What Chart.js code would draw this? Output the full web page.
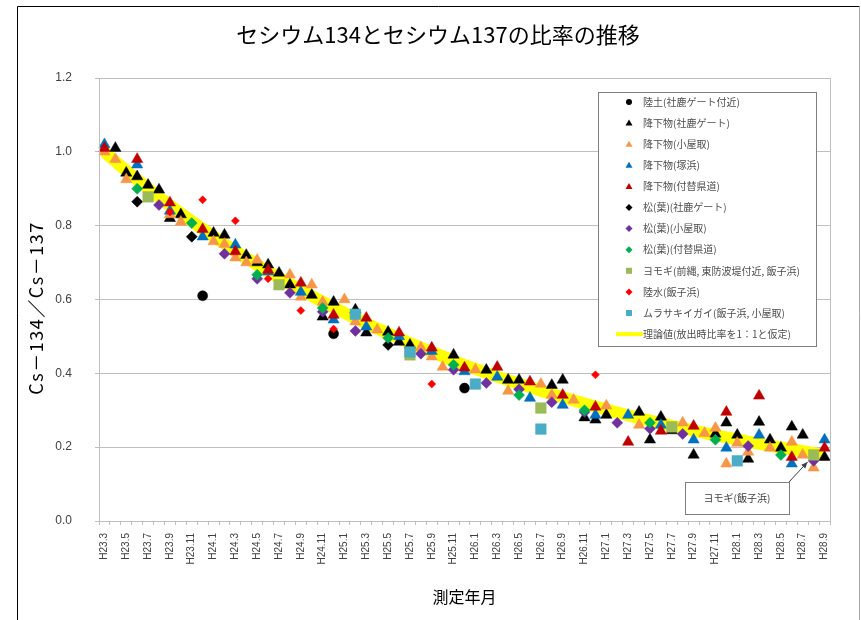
<!DOCTYPE html>
<html>
<head>
<meta charset="utf-8">
<script src="https://cdn.jsdelivr.net/npm/chart.js@4/dist/chart.umd.min.js"></script>
<style>
  body { margin: 0; background: #fff; }
  canvas { display: block; }
</style>
</head>
<body>
<canvas id="chart" width="861" height="620"></canvas>
<script>
// 測定年月 (category axis, every month H23.3 - H28.9)
const months = [
  'H23.3','H23.4','H23.5','H23.6','H23.7','H23.8','H23.9','H23.10','H23.11','H23.12',
  'H24.1','H24.2','H24.3','H24.4','H24.5','H24.6','H24.7','H24.8','H24.9','H24.10','H24.11','H24.12',
  'H25.1','H25.2','H25.3','H25.4','H25.5','H25.6','H25.7','H25.8','H25.9','H25.10','H25.11','H25.12',
  'H26.1','H26.2','H26.3','H26.4','H26.5','H26.6','H26.7','H26.8','H26.9','H26.10','H26.11','H26.12',
  'H27.1','H27.2','H27.3','H27.4','H27.5','H27.6','H27.7','H27.8','H27.9','H27.10','H27.11','H27.12',
  'H28.1','H28.2','H28.3','H28.4','H28.5','H28.6','H28.7','H28.8','H28.9'
];

// 陸土(社鹿ゲート付近)
const rikudoM = ['H23.12','H24.12','H25.12'];
const rikudo = [0.61, 0.507, 0.36];

// 降下物(社鹿ゲート)
const fallGateM = ['H23.4','H23.5','H23.6','H23.7','H23.8','H23.9','H23.10','H24.1','H24.2','H24.4','H24.5','H24.6','H24.7','H24.8','H24.10','H24.11','H24.12','H25.2','H25.3','H25.5','H25.6','H25.7','H25.11','H26.2','H26.4','H26.5','H26.8','H26.9','H26.11','H26.12','H27.1','H27.4','H27.5','H27.6','H27.7','H27.9','H27.11','H27.12','H28.1','H28.2','H28.3','H28.4','H28.5','H28.6','H28.7','H28.9'];
const fallGate = [1.01, 0.943, 0.933, 0.91, 0.897, 0.82, 0.83, 0.78, 0.775, 0.72, 0.70, 0.694, 0.672, 0.64, 0.612, 0.553, 0.593, 0.572, 0.51, 0.512, 0.485, 0.477, 0.45, 0.409, 0.382, 0.382, 0.368, 0.382, 0.28, 0.274, 0.287, 0.295, 0.22, 0.282, 0.245, 0.179, 0.236, 0.266, 0.233, 0.168, 0.268, 0.22, 0.198, 0.255, 0.233, 0.173];

// 降下物(小屋取)
const fallKoyaM = ['H23.3','H23.4','H23.5','H23.9','H23.10','H24.1','H24.2','H24.3','H24.4','H24.5','H24.8','H24.9','H24.10','H24.11','H25.1','H25.2','H25.4','H25.8','H25.9','H25.10','H26.1','H26.4','H26.7','H26.8','H26.10','H27.1','H27.4','H27.8','H27.10','H27.11','H27.12','H28.1','H28.2','H28.4','H28.6','H28.7','H28.8'];
const fallKoya = [1.00, 0.98, 0.925, 0.83, 0.81, 0.757, 0.75, 0.713, 0.70, 0.707, 0.667, 0.607, 0.64, 0.593, 0.60, 0.54, 0.518, 0.47, 0.445, 0.417, 0.41, 0.352, 0.371, 0.341, 0.328, 0.312, 0.26, 0.266, 0.238, 0.252, 0.155, 0.211, 0.187, 0.198, 0.214, 0.179, 0.144];

// 降下物(塚浜)
const fallTsukaM = ['H23.3','H23.6','H23.9','H23.12','H24.3','H24.6','H24.9','H24.12','H25.3','H25.6','H25.9','H25.12','H26.3','H26.6','H26.9','H26.12','H27.3','H27.6','H27.9','H27.12','H28.3','H28.6','H28.9'];
const fallTsuka = [1.02, 0.965, 0.84, 0.77, 0.748, 0.675, 0.62, 0.545, 0.526, 0.50, 0.46, 0.405, 0.39, 0.333, 0.314, 0.287, 0.287, 0.26, 0.22, 0.198, 0.233, 0.155, 0.22];

// 降下物(付替県道)
const fallRoadM = ['H23.3','H23.6','H23.9','H23.12','H24.3','H24.6','H24.9','H24.12','H25.3','H25.6','H25.9','H25.12','H26.3','H26.6','H26.9','H26.12','H27.3','H27.6','H27.9','H27.12','H28.3','H28.6','H28.9'];
const fallRoad = [1.01, 0.98, 0.862, 0.79, 0.73, 0.68, 0.645, 0.558, 0.55, 0.51, 0.469, 0.415, 0.417, 0.377, 0.341, 0.309, 0.214, 0.244, 0.257, 0.295, 0.339, 0.173, 0.198];

// 松(葉)
const pineGateM = ['H23.6','H23.11','H25.5'];
const pineGate = [0.865, 0.77, 0.477];
const pineKoyaM = ['H23.8','H24.2','H24.5','H24.8','H24.11','H25.2','H25.8','H25.11','H26.2','H26.5','H26.8','H26.11','H27.2','H27.5','H27.8','H28.2','H28.8'];
const pineKoya = [0.856, 0.724, 0.656, 0.618, 0.567, 0.515, 0.453, 0.41, 0.374, 0.357, 0.322, 0.295, 0.266, 0.25, 0.236, 0.203, 0.163];
const pineRoadM = ['H23.6','H23.11','H24.5','H24.11','H25.5','H25.11','H26.5','H26.11','H27.5','H27.11','H28.5'];
const pineRoad = [0.90, 0.807, 0.667, 0.577, 0.496, 0.423, 0.341, 0.30, 0.266, 0.22, 0.179];

// ヨモギ, 陸水, ムラサキイガイ
const yomogiM = ['H23.7','H24.7','H25.7','H26.7','H27.7','H28.8'];
const yomogi = [0.878, 0.64, 0.45, 0.306, 0.255, 0.179];
const waterM = ['H23.9','H23.12','H24.3','H24.6','H24.9','H24.12','H25.9','H26.12'];
const water = [0.837, 0.87, 0.813, 0.656, 0.57, 0.52, 0.371, 0.396];
const musselM = ['H25.2','H25.7','H26.1','H26.7','H28.1'];
const mussel = [0.56, 0.458, 0.371, 0.249, 0.163];

// 理論値 (every 2 months from H23.3)
const theory = [1.000, 0.949, 0.901, 0.855, 0.812, 0.771, 0.731, 0.694, 0.659, 0.626, 0.594, 0.564,
  0.535, 0.508, 0.482, 0.458, 0.434, 0.412, 0.391, 0.372, 0.353, 0.335, 0.318, 0.302,
  0.286, 0.272, 0.258, 0.245, 0.232, 0.221, 0.209, 0.199, 0.189, 0.179];

const yTicks = [0, 0.2, 0.4, 0.6, 0.8, 1.0, 1.2];

const JP = '"Noto Sans CJK JP", sans-serif';

function pts(m, v) {
  return m.map((x, i) => ({ x: x, y: v[i] }));
}

function series(label, m, v, style, color, r, order) {
  return {
    label: label,
    data: pts(m, v),
    showLine: false,
    pointStyle: style,
    pointRadius: r,
    pointBorderWidth: 0.5,
    backgroundColor: color,
    borderColor: color,
    order: order
  };
}

const datasets = [
  series('陸土(社鹿ゲート付近)', rikudoM, rikudo, 'circle', '#000000', 5, 11),
  series('降下物(社鹿ゲート)', fallGateM, fallGate, 'triangle', '#000000', 6.5, 10),
  series('降下物(小屋取)', fallKoyaM, fallKoya, 'triangle', '#F79646', 6.5, 9),
  series('降下物(塚浜)', fallTsukaM, fallTsuka, 'triangle', '#0070C0', 6.5, 8),
  series('降下物(付替県道)', fallRoadM, fallRoad, 'triangle', '#C00000', 6.5, 7),
  series('松(葉)(社鹿ゲート)', pineGateM, pineGate, 'rectRot', '#000000', 5.5, 6),
  series('松(葉)(小屋取)', pineKoyaM, pineKoya, 'rectRot', '#7030A0', 5.5, 5),
  series('松(葉)(付替県道)', pineRoadM, pineRoad, 'rectRot', '#00B050', 5.5, 4),
  series('ヨモギ(前縄, 東防波堤付近, 飯子浜)', yomogiM, yomogi, 'rect', '#9BBB59', 7.5, 3),
  series('陸水(飯子浜)', waterM, water, 'rectRot', '#FF0000', 4, 2),
  series('ムラサキイガイ(飯子浜, 小屋取)', musselM, mussel, 'rect', '#4BACC6', 7.5, 1),
  {
    label: '理論値(放出時比率を1：1と仮定)',
    data: theory.map((v, i) => ({ x: months[i * 2], y: v })),
    borderColor: '#FFFF00',
    backgroundColor: '#FFFF00',
    borderWidth: 12,
    pointRadius: 0,
    cubicInterpolationMode: 'monotone',
    order: 20
  }
];

function mark(ctx, style, x, y, color) {
  ctx.fillStyle = color;
  ctx.beginPath();
  if (style === 'circle') {
    ctx.arc(x, y, 3, 0, Math.PI * 2);
  } else if (style === 'triangle') {
    ctx.moveTo(x, y - 3.5);
    ctx.lineTo(x + 3.5, y + 2.5);
    ctx.lineTo(x - 3.5, y + 2.5);
  } else if (style === 'rectRot') {
    ctx.moveTo(x, y - 3.5);
    ctx.lineTo(x + 3.5, y);
    ctx.lineTo(x, y + 3.5);
    ctx.lineTo(x - 3.5, y);
  } else {
    ctx.rect(x - 3, y - 3, 6, 6);
  }
  ctx.closePath();
  ctx.fill();
}

const decor = {
  id: 'decor',
  beforeDraw(chart) {
    const ctx = chart.ctx;
    ctx.save();
    ctx.fillStyle = '#ffffff';
    ctx.fillRect(0, 0, chart.width, chart.height);
    ctx.restore();
  },
  afterDraw(chart) {
    const ctx = chart.ctx;
    const area = chart.chartArea;
    ctx.save();

    // outer frame
    ctx.strokeStyle = '#000000';
    ctx.lineWidth = 1;
    ctx.beginPath();
    ctx.moveTo(17.5, 630);
    ctx.lineTo(17.5, 6.5);
    ctx.lineTo(859.5, 6.5);
    ctx.stroke();
    ctx.strokeStyle = '#a6a6a6';
    ctx.beginPath();
    ctx.moveTo(859.5, 6.5);
    ctx.lineTo(859.5, 630);
    ctx.stroke();

    // plot area border
    ctx.strokeStyle = '#bfbfbf';
    ctx.strokeRect(area.left + 0.5, area.top + 0.5, area.right - area.left, area.bottom - area.top);

    // titles
    ctx.fillStyle = '#000000';
    ctx.textAlign = 'center';
    ctx.textBaseline = 'middle';
    ctx.font = '22px ' + JP;
    ctx.fillText('セシウム134とセシウム137の比率の推移', 438, 35);
    ctx.font = '16px ' + JP;
    ctx.fillText('測定年月', (area.left + area.right) / 2, 597);
    ctx.save();
    ctx.translate(36, 308);
    ctx.rotate(-Math.PI / 2);
    ctx.font = '18px ' + JP;
    ctx.letterSpacing = '1.5px';
    ctx.fillText('Cs－134／Cs－137', 0, 0);
    ctx.restore();

    // legend
    const lx = 598, ly = 92, lw = 218, lh = 254;
    ctx.fillStyle = '#ffffff';
    ctx.fillRect(lx, ly, lw, lh);
    ctx.strokeStyle = '#7f7f7f';
    ctx.strokeRect(lx + 0.5, ly + 0.5, lw, lh);
    ctx.font = '10px ' + JP;
    ctx.textAlign = 'left';
    chart.data.datasets.forEach((ds, i) => {
      const y = 102 + i * 21.1;
      if (ds.pointStyle) {
        mark(ctx, ds.pointStyle, 629, y, ds.backgroundColor);
      } else {
        ctx.strokeStyle = ds.borderColor;
        ctx.lineWidth = 4;
        ctx.beginPath();
        ctx.moveTo(616, y);
        ctx.lineTo(643, y);
        ctx.stroke();
        ctx.lineWidth = 1;
      }
      ctx.fillStyle = '#4d4d4d';
      ctx.fillText(ds.label, 643, y);
    });

    // callout for ヨモギ(飯子浜)
    const xs = chart.scales.x, ys = chart.scales.y;
    const px = xs.getPixelForValue(months.indexOf('H28.8'));
    const py = ys.getPixelForValue(0.179);
    const tipX = px - 6, tipY = py + 7;
    const bx = 685, by = 482, bw = 104, bh = 32;
    ctx.fillStyle = '#ffffff';
    ctx.fillRect(bx, by, bw, bh);
    ctx.strokeStyle = '#7f7f7f';
    ctx.strokeRect(bx + 0.5, by + 0.5, bw, bh);
    ctx.strokeStyle = '#404040';
    ctx.beginPath();
    ctx.moveTo(bx + bw, by);
    ctx.lineTo(tipX, tipY);
    ctx.stroke();
    const ang = Math.atan2(tipY - by, tipX - (bx + bw));
    ctx.fillStyle = '#404040';
    ctx.beginPath();
    ctx.moveTo(tipX, tipY);
    ctx.lineTo(tipX - 7 * Math.cos(ang - 0.4), tipY - 7 * Math.sin(ang - 0.4));
    ctx.lineTo(tipX - 7 * Math.cos(ang + 0.4), tipY - 7 * Math.sin(ang + 0.4));
    ctx.closePath();
    ctx.fill();
    ctx.fillStyle = '#404040';
    ctx.textAlign = 'center';
    ctx.font = '10px ' + JP;
    ctx.fillText('ヨモギ(飯子浜)', bx + bw / 2, by + bh / 2);

    ctx.restore();
  }
};

new Chart(document.getElementById('chart'), {
  type: 'line',
  data: { labels: months, datasets: datasets },
  options: {
    responsive: false,
    animation: false,
    devicePixelRatio: 1,
    layout: { padding: { top: 78, right: 31, left: 0, bottom: 0 } },
    plugins: {
      legend: { display: false },
      title: { display: false },
      tooltip: { enabled: false }
    },
    scales: {
      x: {
        type: 'category',
        offset: true,
        afterFit: (s) => { s.height = 99; },
        grid: { drawOnChartArea: false, drawTicks: true, tickLength: 4, color: '#bfbfbf', offset: true },
        border: { color: '#bfbfbf' },
        ticks: {
          autoSkip: false,
          minRotation: 90,
          maxRotation: 90,
          padding: 8,
          color: '#404040',
          font: { family: '"Liberation Sans", sans-serif', size: 10 },
          callback: (v, i) => (i % 2 === 0 ? months[i] : '')
        }
      },
      y: {
        min: 0,
        max: 1.2,
        afterFit: (s) => { s.width = 99; },
        afterBuildTicks: (s) => { s.ticks = yTicks.map(v => ({ value: v })); },
        grid: { color: '#bfbfbf', tickLength: 4 },
        border: { color: '#bfbfbf' },
        ticks: {
          padding: 23,
          color: '#404040',
          font: { family: '"Liberation Sans", sans-serif', size: 12 },
          callback: (v) => v.toFixed(1)
        }
      }
    }
  },
  plugins: [decor]
});
</script>
</body>
</html>
